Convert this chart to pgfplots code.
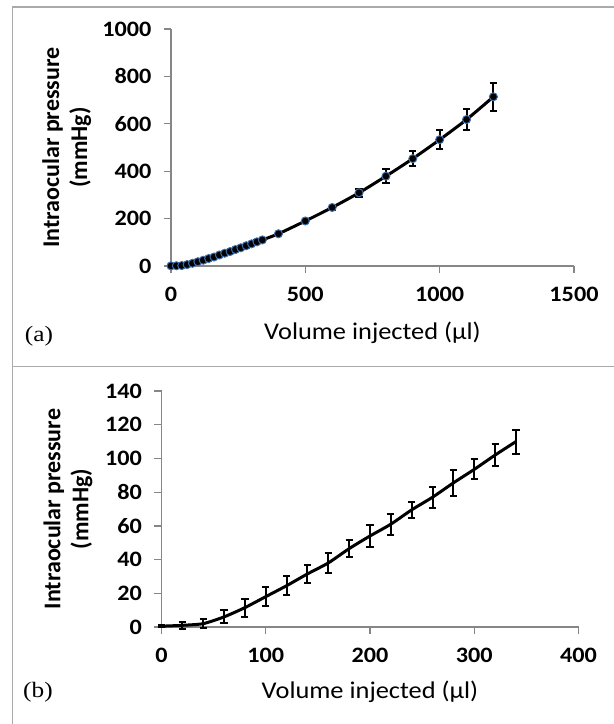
\documentclass[border=0pt]{standalone}
\usepackage{pgfplots}
\pgfplotsset{compat=1.18}
\usepackage{pgfplotstable}
\usepackage{fontspec}
\setmainfont{Carlito}[FakeStretch=1.1]
\newfontfamily\ylabfont{Carlito}
\newfontfamily\panelfont{Liberation Serif}[FakeStretch=1.15]
\definecolor{axgray}{RGB}{134,134,134}
\definecolor{boxgray}{RGB}{170,170,170}
\definecolor{mkblue}{RGB}{60,110,170}

\pgfplotstableread{
x y e
0 0.5 0.5
20 1 2
40 2 2.5
60 6 3.8
80 11.5 5.3
100 18 5.7
120 24.5 5.6
140 31.5 5.4
160 38 5.8
180 46.5 5.2
200 54 6.3
220 61 6.2
240 69.5 4.6
260 77 6.2
280 85.5 7.5
300 93.5 5.9
320 102 6.6
340 110 7.1
400 136 5
500 190 7
600 247 10
700 309 17
800 379 29
900 453 31
1000 533 41
1100 618 46
1200 714 58
}\dataA

\pgfplotstableread{
x y e
0 0.5 0.5
20 1 2
40 2 2.5
60 6 3.8
80 11.5 5.3
100 18 5.7
120 24.5 5.6
140 31.5 5.4
160 38 5.8
180 46.5 5.2
200 54 6.3
220 61 6.2
240 69.5 4.6
260 77 6.2
280 85.5 7.5
300 93.5 5.9
320 102 6.6
340 110 7.1
}\dataB

\pgfplotsset{
  myaxis/.style={
    scale only axis,
    axis x line*=bottom, axis y line*=left,
    axis line style={axgray, line width=1.3pt},
    tick style={axgray, line width=1.3pt},
    tick align=outside,
    major tick length=7pt,
    /pgf/number format/assume math mode=true,
    /pgf/number format/1000 sep={},
    ticklabel style={font=\bfseries\fontsize{22}{22}\selectfont, text=black},
    xticklabel style={yshift=-11pt},
    yticklabel style={xshift=-9pt},
    xlabel style={font=\fontsize{24}{24}\selectfont, anchor=center},
    ylabel style={font=\ylabfont\bfseries\fontsize{24}{28}\selectfont, align=center, anchor=center},
    clip=false,
  },
  ebars/.style={
    error bars/.cd, y dir=both, y explicit,
    error bar style={line width=2pt, black},
    error mark options={line width=2pt, black, mark size=3.6pt, rotate=90},
  },
}

\begin{document}
\begin{tikzpicture}
\useasboundingbox (0pt,0pt) rectangle (614pt,-724pt);
\draw[boxgray, line width=1.5pt] (12.5pt,-724pt) -- (12.5pt,-7pt) -- (614pt,-7pt);
\draw[boxgray, line width=1.5pt] (12.5pt,-366.5pt) -- (614pt,-366.5pt);

\begin{axis}[myaxis,
  at={(171pt,-266pt)}, anchor=south west,
  width=403pt, height=237pt,
  xmin=0, xmax=1500, ymin=0, ymax=1000,
  xtick={0,500,1000,1500}, ytick={0,200,400,600,800,1000},
  xlabel={Volume injected (µl)},
  ylabel={Intraocular pressure\\(mmHg)},
  xlabel style={at={(axis description cs:0.5,-0.283)}},
  ylabel style={at={(axis description cs:-0.259,0.5)}},
]
\addplot[black, line width=3pt, smooth, tension=0.4,
  mark=*, mark size=4pt, mark options={fill=black, draw=mkblue, line width=1pt},
  ebars] table[x=x, y=y, y error=e] {\dataA};
\end{axis}

\begin{axis}[myaxis,
  at={(161.5pt,-627pt)}, anchor=south west,
  width=417pt, height=236pt,
  xmin=0, xmax=400, ymin=0, ymax=140,
  xtick={0,100,200,300,400}, ytick={0,20,...,140},
  xlabel={Volume injected (µl)},
  ylabel={Intraocular pressure\\(mmHg)},
  xlabel style={at={(axis description cs:0.5,-0.275)}},
  ylabel style={at={(axis description cs:-0.224,0.5)}},
]
\addplot[black, line width=3pt, smooth, tension=0.4, mark=none,
  ebars] table[x=x, y=y, y error=e] {\dataB};
\end{axis}

\node[font=\panelfont\fontsize{22}{22}\selectfont] at (39pt,-336pt) {(a)};
\node[font=\panelfont\fontsize{22}{22}\selectfont] at (38pt,-692pt) {(b)};
\end{tikzpicture}
\end{document}
